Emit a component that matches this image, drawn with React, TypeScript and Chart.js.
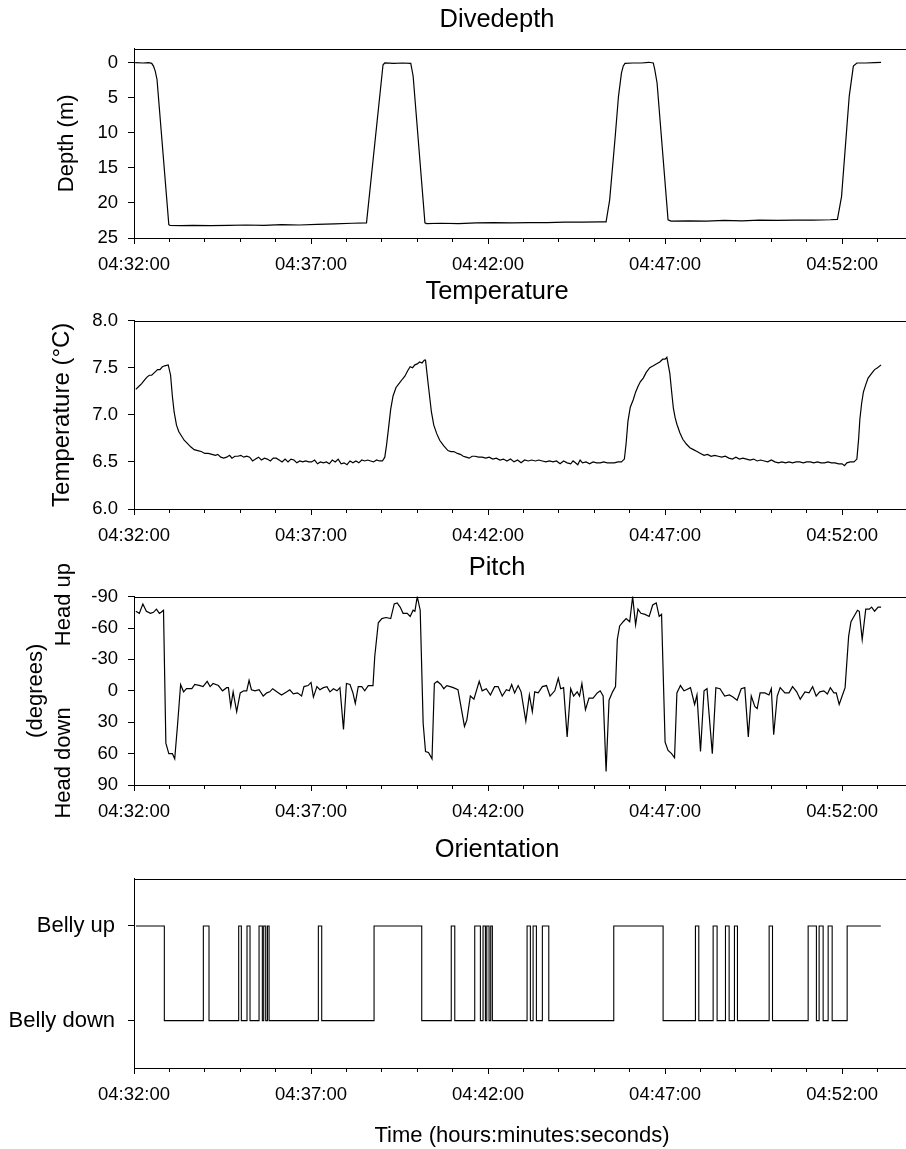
import React, { useEffect, useRef } from 'react';
import { Chart, registerables } from 'chart.js';

Chart.register(...registerables);

const FONT = "'Liberation Sans', Arial, Helvetica, sans-serif";

// ---- shared x axis: seconds after 04:32:00 ----
const START_SECONDS = 4 * 3600 + 32 * 60;
const X_MAX = 1315;
const xTickValues = [0, 60, 120, 180, 240, 300, 360, 420, 480, 540, 600, 660, 720, 780, 840, 900, 960, 1020, 1080, 1140, 1200, 1260];
const xLabelEvery = 300;

const panelTitles = ['Divedepth', 'Temperature', 'Pitch', 'Orientation'];
const xAxisTitle = 'Time (hours:minutes:seconds)';

// ---- Dive depth (m) ----
const depthTimes = [
  2, 15, 25, 30, 33, 36, 39, 59, 61, 80,
  100, 130, 160, 190, 220, 250, 280, 310, 340, 370,
  394, 422, 425, 440, 455, 469, 473, 493, 496, 520,
  550, 580, 610, 640, 670, 700, 730, 760, 790, 800,
  806, 815, 821, 826, 829, 832, 845, 860, 872, 880,
  882.5, 886.4, 905, 910, 940, 970, 1000, 1030, 1060, 1090,
  1120, 1150, 1180, 1192, 1199, 1212, 1219, 1225, 1240, 1255,
  1266,
];
const depthValues = [
  0.0, 0.05, 0.0, 0.1, 0.5, 1.2, 2.4, 23.1, 23.2, 23.25,
  23.2, 23.25, 23.2, 23.15, 23.2, 23.1, 23.15, 23.05, 23.0, 22.9,
  22.85, 0.3, 0.05, 0.1, 0.05, 0.1, 1.9, 22.85, 22.95, 22.9,
  22.95, 22.85, 22.8, 22.85, 22.8, 22.8, 22.75, 22.75, 22.7, 22.7,
  19.6, 11.0, 4.8, 1.5, 0.5, 0.1, 0.05, 0.05, -0.05, 0.05,
  1.0, 2.9, 22.4, 22.6, 22.55, 22.6, 22.5, 22.55, 22.45, 22.5,
  22.45, 22.45, 22.4, 22.35, 19.1, 4.8, 0.5, 0.05, 0.05, 0.0,
  -0.05,
];
const depthTicks = [0, 5, 10, 15, 20, 25];
const depthAxisTitle = 'Depth (m)';

// ---- Temperature (deg C) ----
const tempTimes = [
  3, 8, 13, 18, 22, 26, 30, 35, 40, 44, 48, 52, 58,
  62, 65, 68, 72, 76, 80, 85, 90, 96, 102, 108, 114, 120, 126, 132, 138, 142, 147, 152, 157,
  162, 166, 171, 176, 181, 186, 191, 196, 201, 206, 211, 216, 221, 226, 231, 236, 241, 246, 251, 256,
  261, 266, 271, 276, 281, 286, 291, 296, 301, 306, 311, 316, 321, 326, 331, 336, 341, 346, 351, 356,
  361, 366, 371, 376, 381, 386, 391, 396, 401, 406, 411, 416, 421,
  425, 428, 431, 435, 439, 444, 450, 455, 459, 464, 468, 472, 476, 480, 484, 488, 492, 494,
  499, 504, 508, 513, 518, 525, 532, 537, 542, 548, 553, 558, 563, 568, 573, 578, 584, 590, 596, 602,
  608, 614, 620, 626, 632, 638, 644, 650, 656, 662, 668, 674, 680, 686, 692, 698, 704, 710, 716, 722,
  728, 734, 740, 744, 748, 752, 756, 760, 766, 772, 778, 784, 790, 796, 802, 808, 814, 820, 826, 831,
  834, 837, 841, 846, 850, 854, 858, 863, 868, 874, 880, 885, 891, 896, 900, 903,
  908, 911, 914, 917, 920, 925, 930, 936, 942, 948, 954, 960, 966, 972, 978, 984, 990, 996, 1002, 1008,
  1014, 1020, 1026, 1032, 1038, 1044, 1050, 1056, 1062, 1068, 1074, 1080, 1086, 1092, 1098, 1104, 1110, 1116, 1122, 1128,
  1134, 1140, 1146, 1152, 1158, 1164, 1170, 1176, 1182, 1188, 1194, 1200, 1204, 1208, 1214, 1220, 1225,
  1228, 1230, 1233, 1236, 1240, 1244, 1250, 1255, 1260, 1266,
];
const tempValues = [
  7.27, 7.30, 7.33, 7.37, 7.40, 7.42, 7.42, 7.45, 7.48, 7.48, 7.51, 7.52, 7.53,
  7.42, 7.20, 7.03, 6.89, 6.82, 6.78, 6.73, 6.70, 6.66, 6.63, 6.62, 6.61, 6.59, 6.59, 6.58, 6.57, 6.58, 6.55, 6.54, 6.55,
  6.57, 6.54, 6.56, 6.56, 6.57, 6.55, 6.56, 6.55, 6.51, 6.53, 6.55, 6.52, 6.54, 6.53, 6.51, 6.54, 6.54, 6.52, 6.50, 6.53,
  6.50, 6.53, 6.52, 6.49, 6.51, 6.50, 6.51, 6.50, 6.50, 6.52, 6.48, 6.50, 6.49, 6.50, 6.48, 6.52, 6.50, 6.53, 6.48, 6.49,
  6.47, 6.51, 6.49, 6.51, 6.49, 6.52, 6.51, 6.52, 6.51, 6.50, 6.52, 6.51, 6.51,
  6.55, 6.68, 6.84, 7.06, 7.20, 7.29, 7.34, 7.38, 7.41, 7.47, 7.51, 7.50, 7.53, 7.54, 7.56, 7.55, 7.58, 7.58,
  7.30, 7.03, 6.89, 6.80, 6.73, 6.67, 6.62, 6.61, 6.61, 6.59, 6.58, 6.56, 6.55, 6.54, 6.56, 6.56, 6.55, 6.55, 6.54, 6.55,
  6.53, 6.54, 6.52, 6.53, 6.51, 6.53, 6.50, 6.52, 6.49, 6.52, 6.51, 6.52, 6.51, 6.52, 6.51, 6.50, 6.51, 6.50, 6.51, 6.48,
  6.51, 6.49, 6.48, 6.51, 6.49, 6.47, 6.52, 6.49, 6.50, 6.48, 6.50, 6.49, 6.49, 6.50, 6.49, 6.49, 6.49, 6.50, 6.50, 6.53,
  6.70, 6.93, 7.08, 7.16, 7.24, 7.30, 7.35, 7.39, 7.45, 7.50, 7.52, 7.54, 7.56, 7.59, 7.59, 7.61,
  7.44, 7.25, 7.07, 6.97, 6.90, 6.81, 6.74, 6.69, 6.65, 6.63, 6.61, 6.59, 6.57, 6.58, 6.56, 6.57, 6.56, 6.55, 6.56, 6.54,
  6.53, 6.55, 6.53, 6.54, 6.53, 6.52, 6.53, 6.51, 6.52, 6.51, 6.50, 6.52, 6.50, 6.49, 6.50, 6.49, 6.50, 6.49, 6.50, 6.50,
  6.49, 6.50, 6.50, 6.49, 6.50, 6.49, 6.49, 6.50, 6.49, 6.49, 6.48, 6.48, 6.46, 6.49, 6.50, 6.50, 6.53,
  6.75, 6.95, 7.12, 7.24, 7.32, 7.39, 7.44, 7.48, 7.50, 7.53,
];
const tempTicks = [6.0, 6.5, 7.0, 7.5, 8.0];
const tempAxisTitle = 'Temperature (\u00B0C)';

// ---- Pitch (degrees; negative = head up) ----
const pitchTimes = [
  3, 9, 15, 21, 28, 33, 38, 43, 46, 50,
  54, 59, 65, 69, 74, 79, 84, 89, 98, 103, 112, 117, 124, 129, 134, 143, 150, 157, 160, 164,
  168, 174, 180, 186, 191, 195, 199, 205, 212, 219, 225, 230, 235, 242, 250, 259, 264, 270, 277, 284,
  288, 295, 300, 304, 310, 315, 321, 327, 332, 338, 344, 349, 355, 360, 366, 371, 375, 380, 386, 391,
  397, 405,
  408, 414, 420, 427, 435, 441, 446, 451, 456, 463, 468, 473, 476, 480, 485,
  490, 494, 499, 505, 509, 514, 520, 525, 530, 536, 541, 549, 555, 560, 564, 570, 576, 585, 590, 597,
  604, 611, 617, 624, 631, 636, 640, 645, 651, 656, 664, 670, 675, 679, 685, 692, 699, 705, 713, 719,
  723, 728, 734, 740, 745, 751, 755, 759, 765, 771, 778, 785, 790, 795, 800, 805, 811, 816,
  819, 823, 829, 834, 840, 845, 850, 854, 859, 866, 873, 879, 885, 890, 894,
  900, 905, 911, 916, 920, 926, 932, 936, 943, 950, 954, 960, 966, 971, 980, 986, 993, 1001, 1009, 1015,
  1022, 1029, 1035, 1041, 1046, 1052, 1056, 1061, 1069, 1076, 1080, 1084, 1090, 1095, 1103, 1110, 1116, 1123, 1129, 1137,
  1144, 1150, 1156, 1162, 1169, 1175, 1180, 1186, 1190, 1195, 1200, 1205,
  1211, 1215, 1220, 1226, 1229, 1234, 1240, 1246, 1250, 1255, 1261, 1266,
];
const pitchValues = [
  -76, -74, -83, -76, -74, -75, -78, -74, -75, -77,
  50, 60, 60, 65, 31, -6, 1, -2, -2, -6, -5, -4, -9, -4, -7, -5, 0, -3, -3, 15,
  1, 20, 2, 0, 0, -10, -1, 0, -1, 5, 2, 1, -2, 1, 4, 1, -1, 3, 2, 5,
  -4, -5, -8, 6, -4, -1, -3, -4, 1, -2, 0, -3, 37, -7, -6, 2, 12, -4, -4, 0,
  -5, -5,
  -33, -65, -69, -70, -69, -83, -84, -80, -74, -74, -71, -77, -76, -90, -77,
  31, 58, 59, 65, -7, -9, -6, -2, -5, -4, -3, -1, 18, 34, 28, 5, 8, -9, 0, -2,
  4, -4, -4, 5, -1, 0, -6, 2, -5, 1, 29, 4, 20, 1, 2, -4, -5, 5, 0, -12,
  -2, -3, 44, -2, 5, 1, 5, -7, 18, 7, 7, 2, 0, 5, 77, 9, 1, -4,
  -49, -62, -66, -69, -66, -90, -63, -78, -74, -73, -71, -82, -84, -71, -73,
  49, 57, 60, 64, 2, -5, 0, -1, -3, 13, 4, 58, 0, -2, 60, -3, -2, 5, 4, 6,
  9, -2, -3, 44, 5, 15, 17, 2, 2, 4, -2, 42, 5, -3, 2, 2, -4, 1, 8, 1,
  2, -4, 5, 1, 0, 3, -3, 2, 2, 13, 5, -3,
  -52, -66, -71, -77, -76, -49, -78, -78, -80, -76, -80, -80,
];
const pitchTicks = [-90, -60, -30, 0, 30, 60, 90];
const pitchAxisTitle = ['(degrees)', 'Head down          Head up'];

// ---- Orientation (1 = belly up, 0 = belly down), state holds until next time ----
const orientTimes = [
  3.4, 51.4, 117.5, 127.1, 177.4, 181.9, 191.5, 196.6, 211.9, 217.5,
  219.8, 223.2, 226.1, 228.9, 312.4, 318.1, 406.8, 487.6, 537.6, 543.6,
  577.4, 587, 591.5, 595.5, 597.8, 601.7, 604.5, 607.3, 666.1, 671.7,
  676.3, 681.9, 692, 702.9, 813, 896.6, 951.4, 957.1, 981.4, 988.1,
  1002.3, 1008.5, 1017.5, 1022.6, 1076.3, 1082, 1142.4, 1156.4, 1161, 1167.8,
  1176.3, 1183.1, 1208.5, 1265.5,
];
const orientStates = [
  1, 0, 1, 0, 1, 0, 1, 0, 1, 0,
  1, 0, 1, 0, 1, 0, 1, 0, 1, 0,
  1, 0, 1, 0, 1, 0, 1, 0, 1, 0,
  1, 0, 1, 0, 1, 0, 1, 0, 1, 0,
  1, 0, 1, 0, 1, 0, 1, 0, 1, 0,
  1, 0, 1, 1,
];
const orientTicks = [0, 1];
const orientLabels = ['Belly down', 'Belly up'];

function pad2(n: number) {
  return n < 10 ? '0' + n : String(n);
}
function formatTime(v: number) {
  const total = START_SECONDS + v;
  const h = Math.floor(total / 3600);
  const m = Math.floor((total % 3600) / 60);
  const s = Math.round(total % 60);
  return pad2(h) + ':' + pad2(m) + ':' + pad2(s);
}

const topFrame = {
  id: 'topFrame',
  afterDraw(chart: any) {
    const { ctx, chartArea } = chart;
    const y = Math.round(chartArea.top) + 0.5;
    ctx.save();
    ctx.strokeStyle = '#000';
    ctx.lineWidth = 1;
    ctx.beginPath();
    ctx.moveTo(chartArea.left, y);
    ctx.lineTo(chartArea.right, y);
    ctx.stroke();
    ctx.restore();
  },
};

type Panel = {
  key: string;
  top: number;
  height: number;
  title: string;
  times: number[];
  values: number[];
  stepped?: boolean;
  yMin: number;
  yMax: number;
  reverse: boolean;
  yTicks: number[];
  yFmt: (v: number) => string;
  yTitle?: string | string[];
  yTitlePad?: number;
  yTitleLH?: number;
  yTitleSize?: number;
  yTickSize: number;
  yTickPad: number;
  xHeight: number;
  xTitle?: string;
};

const panels: Panel[] = [
  {
    key: 'depth', top: 0, height: 278, title: panelTitles[0],
    times: depthTimes, values: depthValues,
    yMin: -2, yMax: 25, reverse: true, yTicks: depthTicks, yFmt: (v) => String(v),
    yTitle: depthAxisTitle, yTitlePad: -30.5, yTitleLH: 1.2, yTitleSize: 22,
    yTickSize: 18.5, yTickPad: 10, xHeight: 40,
  },
  {
    key: 'temp', top: 272, height: 277, title: panelTitles[1],
    times: tempTimes, values: tempValues,
    yMin: 6, yMax: 8, reverse: false, yTicks: tempTicks, yFmt: (v) => v.toFixed(1),
    yTitle: tempAxisTitle, yTitlePad: -36.5, yTitleLH: 1.2, yTitleSize: 24,
    yTickSize: 18.5, yTickPad: 10, xHeight: 40,
  },
  {
    key: 'pitch', top: 548, height: 277, title: panelTitles[2],
    times: pitchTimes, values: pitchValues,
    yMin: -90, yMax: 90, reverse: true, yTicks: pitchTicks, yFmt: (v) => String(v),
    yTitle: pitchAxisTitle, yTitlePad: -62, yTitleLH: 1.27, yTitleSize: 22,
    yTickSize: 18.5, yTickPad: 10, xHeight: 40,
  },
  {
    key: 'orient', top: 830, height: 319, title: panelTitles[3],
    times: orientTimes, values: orientStates, stepped: true,
    yMin: -0.5, yMax: 1.5, reverse: false, yTicks: orientTicks,
    yFmt: (v) => orientLabels[orientTicks.indexOf(v)] ?? '',
    yTickSize: 22, yTickPad: 13, xHeight: 81, xTitle: xAxisTitle,
  },
];

function buildConfig(p: Panel): any {
  return {
    type: 'line',
    data: {
      datasets: [
        {
          data: p.times.map((t, i) => ({ x: t, y: p.values[i] })),
          borderColor: '#000',
          borderWidth: p.stepped ? 1.1 : 1.2,
          pointRadius: 0,
          pointHoverRadius: 0,
          tension: 0,
          fill: false,
          stepped: p.stepped ? 'before' : false,
        },
      ],
    },
    options: {
      responsive: false,
      animation: false,
      events: [],
      layout: { padding: { left: 84, right: 0, top: 0, bottom: 0 } },
      plugins: {
        legend: { display: false },
        tooltip: { enabled: false },
        title: {
          display: true,
          text: p.title,
          color: '#000',
          font: { family: FONT, size: 25.5, weight: 'normal', lineHeight: 1.2 },
          padding: { top: 5, bottom: 13 },
        },
      },
      scales: {
        x: {
          type: 'linear',
          min: 0,
          max: X_MAX,
          afterBuildTicks: (s: any) => {
            s.ticks = xTickValues.map((v) => ({ value: v }));
          },
          afterFit: (s: any) => {
            s.height = p.xHeight;
          },
          grid: {
            drawOnChartArea: false,
            drawTicks: true,
            tickLength: 6,
            tickColor: '#000',
            tickWidth: 1,
            tickBorderDash: (c: any) => (c.tick && c.tick.value % xLabelEvery === 0 ? [] : [3, 20]),
          },
          border: { display: true, color: '#000', width: 1 },
          ticks: {
            autoSkip: false,
            maxRotation: 0,
            minRotation: 0,
            padding: 10,
            color: '#000',
            font: { family: FONT, size: 18.5 },
            callback: (v: number) => (v % xLabelEvery === 0 ? formatTime(v) : ''),
          },
          title: p.xTitle
            ? {
                display: true,
                text: p.xTitle,
                color: '#000',
                font: { family: FONT, size: 22, lineHeight: 1.2 },
                padding: { top: 0, bottom: 0 },
              }
            : { display: false },
        },
        y: {
          type: 'linear',
          min: p.yMin,
          max: p.yMax,
          reverse: p.reverse,
          afterBuildTicks: (s: any) => {
            s.ticks = p.yTicks.map((v) => ({ value: v }));
          },
          afterFit: (s: any) => {
            s.width = 50;
            // let the tick labels extend left of the (narrow) axis box
            s._computeLabelArea = () => undefined;
          },
          grid: { drawOnChartArea: false, drawTicks: true, tickLength: 6, tickColor: '#000', tickWidth: 1 },
          border: { display: true, color: '#000', width: 1 },
          ticks: {
            autoSkip: false,
            padding: p.yTickPad,
            color: '#000',
            font: { family: FONT, size: p.yTickSize },
            callback: (v: number) => p.yFmt(v),
          },
          title: p.yTitle
            ? {
                display: true,
                text: p.yTitle,
                color: '#000',
                font: { family: FONT, size: p.yTitleSize, lineHeight: p.yTitleLH },
                padding: { top: p.yTitlePad, bottom: 0 },
              }
            : { display: false },
        },
      },
    },
    plugins: [topFrame],
  };
}

export default function App() {
  const r0 = useRef<HTMLCanvasElement | null>(null);
  const r1 = useRef<HTMLCanvasElement | null>(null);
  const r2 = useRef<HTMLCanvasElement | null>(null);
  const r3 = useRef<HTMLCanvasElement | null>(null);
  const refs = [r0, r1, r2, r3];

  useEffect(() => {
    const charts = panels.map((p, i) => new Chart(refs[i].current as HTMLCanvasElement, buildConfig(p)));
    return () => {
      charts.forEach((c) => c.destroy());
    };
  }, []);

  return (
    <div
      style={{
        position: 'fixed',
        left: 0,
        top: 0,
        width: 906,
        height: 1149,
        overflow: 'hidden',
        background: '#fff',
      }}
    >
      {panels.map((p, i) => (
        <canvas
          key={p.key}
          ref={refs[i]}
          width={910}
          height={p.height}
          style={{ position: 'absolute', left: 0, top: p.top, width: 910, height: p.height, display: 'block' }}
        />
      ))}
    </div>
  );
}
